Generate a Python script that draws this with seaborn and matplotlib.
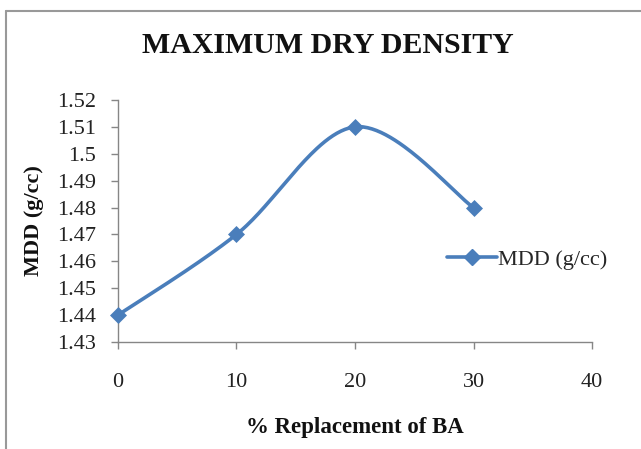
import numpy as np
import pandas as pd
import matplotlib
matplotlib.use("Agg")
import matplotlib.pyplot as plt
import seaborn as sns
from matplotlib.lines import Line2D

replacement = [0, 10, 20, 30]
mdd = [1.44, 1.47, 1.51, 1.48]
x_ticks = [0, 10, 20, 30, 40]
y_ticks = [1.43, 1.44, 1.45, 1.46, 1.47, 1.48, 1.49, 1.50, 1.51, 1.52]
y_tick_labels = ["1.43", "1.44", "1.45", "1.46", "1.47", "1.48", "1.49", "1.5", "1.51", "1.52"]
title = "MAXIMUM DRY DENSITY"
x_label = "% Replacement of BA"
y_label = "MDD (g/cc)"
series_name = "MDD (g/cc)"

sns.set_theme(style="white")
plt.rcParams["font.family"] = ["Liberation Serif", "DejaVu Serif"]

color = "#4a7ebb"
axis_gray = "#868686"

fig = plt.figure(figsize=(6.41, 4.49), dpi=100)
ax = fig.add_axes([0.184, 0.2383, 0.7396, 0.539])

ax.set_xlim(0, 40)
ax.set_ylim(1.43, 1.52)

# Excel-style smoothed line (Catmull-Rom Bezier in display space)
fig.canvas.draw()
pts = ax.transData.transform(np.column_stack([replacement, mdd]))
P = np.vstack([pts[0], pts, pts[-1]])
curve = []
t = np.linspace(0, 1, 60)[:, None]
for i in range(1, len(P) - 2):
    p0, p1, p2, p3 = P[i - 1], P[i], P[i + 1], P[i + 2]
    c1 = p1 + (p2 - p0) / 6
    c2 = p2 - (p3 - p1) / 6
    seg = ((1 - t) ** 3) * p1 + 3 * ((1 - t) ** 2) * t * c1 + 3 * (1 - t) * t ** 2 * c2 + t ** 3 * p2
    curve.append(seg)
curve = np.vstack(curve)
curve_data = ax.transData.inverted().transform(curve)
ax.plot(curve_data[:, 0], curve_data[:, 1], color=color, lw=2.6, solid_capstyle="round", zorder=2)

df = pd.DataFrame({"x": replacement, "y": mdd})
sns.scatterplot(data=df, x="x", y="y", ax=ax, marker="D", s=75, color=color,
                edgecolor=color, linewidth=0, zorder=3, legend=False, clip_on=False)

ax.set_xticks(x_ticks)
ax.set_yticks(y_ticks)
ax.set_yticklabels(y_tick_labels)
ax.tick_params(axis="both", which="major", direction="out", length=5, width=1,
               color=axis_gray, labelsize=16, labelcolor="#222222", left=True, bottom=True)
ax.tick_params(axis="x", pad=17)
ax.tick_params(axis="y", pad=11)
for s in ["top", "right"]:
    ax.spines[s].set_visible(False)
for s in ["left", "bottom"]:
    ax.spines[s].set_color(axis_gray)
    ax.spines[s].set_linewidth(1)

ax.set_xlabel(x_label, fontsize=16.5, fontweight="bold", labelpad=18, color="#111111")
ax.set_ylabel(y_label, fontsize=16, fontweight="bold", labelpad=9, color="#111111")
fig.text(0.512, 0.898, title, ha="center", va="center", fontsize=21.5, fontweight="bold", color="#111111")

handle = Line2D([0], [0], color=color, lw=2.6, marker="D", markersize=8.5)
ax.legend([handle], [series_name], loc="center left", bbox_to_anchor=(0.694, 0.339),
          frameon=False, fontsize=16, handlelength=2.25, handletextpad=0.05,
          borderaxespad=0, borderpad=0)

# Chart border (top and left visible)
fig.add_artist(Line2D([0.009, 1.0], [0.976, 0.976], transform=fig.transFigure, color="#999999", lw=1.5))
fig.add_artist(Line2D([0.009, 0.009], [0.0, 0.976], transform=fig.transFigure, color="#999999", lw=1.5))

fig.savefig("out.png", dpi=100)
